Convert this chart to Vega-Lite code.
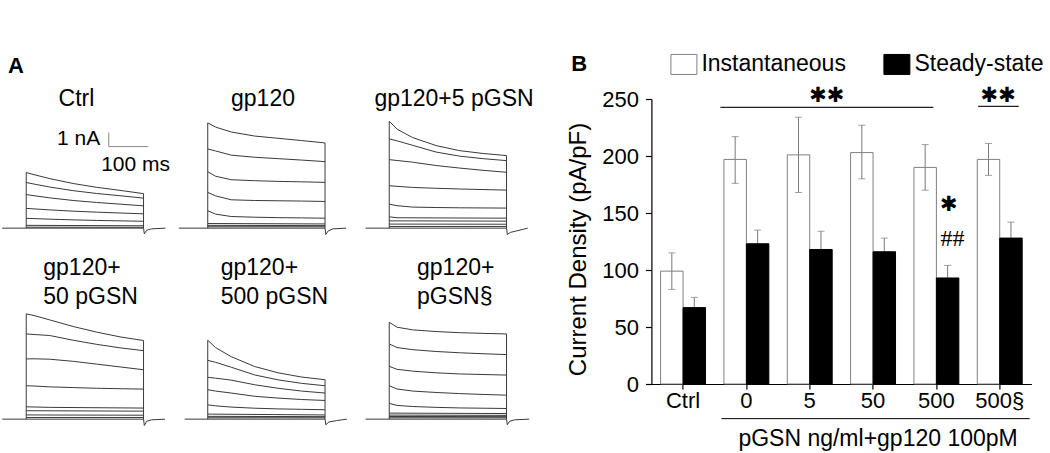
{
  "$schema": "https://vega.github.io/schema/vega-lite/v6.json",
  "background": "white",
  "padding": {"left": 0, "top": 52, "right": 0, "bottom": 0},
  "config": {
    "view": {"stroke": null},
    "font": "Liberation Sans",
    "axis": {"labelFont": "Liberation Sans", "titleFont": "Liberation Sans", "labelColor": "black", "titleColor": "black", "domainColor": "black", "tickColor": "black", "grid": false},
    "legend": {"labelFont": "Liberation Sans"}
  },
  "spacing": 32.4,
  "resolve": {"legend": {"fill": "independent", "stroke": "independent"}},
  "datasets": {
    "tr": [
      {"p":"a","n":1,"t":0,"c":3.96},{"p":"a","n":1,"t":20,"c":3.81},{"p":"a","n":1,"t":60,"c":3.53},{"p":"a","n":1,"t":120,"c":3.18},{"p":"a","n":1,"t":180,"c":2.91},{"p":"a","n":1,"t":240,"c":2.69},{"p":"a","n":1,"t":300,"c":2.46},
      {"p":"a","n":2,"t":0,"c":3.25},{"p":"a","n":2,"t":20,"c":3.14},{"p":"a","n":2,"t":60,"c":2.93},{"p":"a","n":2,"t":120,"c":2.67},{"p":"a","n":2,"t":180,"c":2.47},{"p":"a","n":2,"t":240,"c":2.31},{"p":"a","n":2,"t":300,"c":2.14},
      {"p":"a","n":3,"t":0,"c":2.39},{"p":"a","n":3,"t":20,"c":2.31},{"p":"a","n":3,"t":60,"c":2.16},{"p":"a","n":3,"t":120,"c":1.97},{"p":"a","n":3,"t":180,"c":1.83},{"p":"a","n":3,"t":240,"c":1.71},{"p":"a","n":3,"t":300,"c":1.59},
      {"p":"a","n":4,"t":0,"c":1.41},{"p":"a","n":4,"t":20,"c":1.37},{"p":"a","n":4,"t":60,"c":1.30},{"p":"a","n":4,"t":120,"c":1.21},{"p":"a","n":4,"t":180,"c":1.14},{"p":"a","n":4,"t":240,"c":1.08},{"p":"a","n":4,"t":300,"c":1.02},
      {"p":"a","n":5,"t":0,"c":0.70},{"p":"a","n":5,"t":20,"c":0.68},{"p":"a","n":5,"t":60,"c":0.64},{"p":"a","n":5,"t":120,"c":0.59},{"p":"a","n":5,"t":180,"c":0.55},{"p":"a","n":5,"t":240,"c":0.52},{"p":"a","n":5,"t":300,"c":0.49},
      {"p":"a","n":6,"t":0,"c":0.2},{"p":"a","n":6,"t":300,"c":0.17},
      {"p":"a","n":7,"t":0,"c":0.07},{"p":"a","n":7,"t":300,"c":0.06},
      {"p":"a","n":0,"t":-61.5,"c":0},{"p":"a","n":0,"t":300,"c":0},{"p":"a","n":0,"t":302,"c":-0.4},{"p":"a","n":0,"t":308,"c":-0.15},{"p":"a","n":0,"t":320,"c":-0.05},{"p":"a","n":0,"t":356,"c":0},

      {"p":"b","n":1,"t":0,"c":7.5},{"p":"b","n":1,"t":20,"c":7.2},{"p":"b","n":1,"t":60,"c":6.85},{"p":"b","n":1,"t":120,"c":6.56},{"p":"b","n":1,"t":180,"c":6.4},{"p":"b","n":1,"t":240,"c":6.24},{"p":"b","n":1,"t":300,"c":6.07},
      {"p":"b","n":2,"t":0,"c":5.64},{"p":"b","n":2,"t":20,"c":5.5},{"p":"b","n":2,"t":60,"c":5.2},{"p":"b","n":2,"t":120,"c":5.05},{"p":"b","n":2,"t":180,"c":4.95},{"p":"b","n":2,"t":240,"c":4.85},{"p":"b","n":2,"t":300,"c":4.74},
      {"p":"b","n":3,"t":0,"c":4.02},{"p":"b","n":3,"t":20,"c":3.7},{"p":"b","n":3,"t":60,"c":3.45},{"p":"b","n":3,"t":120,"c":3.38},{"p":"b","n":3,"t":180,"c":3.33},{"p":"b","n":3,"t":240,"c":3.3},{"p":"b","n":3,"t":300,"c":3.26},
      {"p":"b","n":4,"t":0,"c":2.55},{"p":"b","n":4,"t":20,"c":2.3},{"p":"b","n":4,"t":60,"c":2.02},{"p":"b","n":4,"t":120,"c":1.97},{"p":"b","n":4,"t":180,"c":1.95},{"p":"b","n":4,"t":240,"c":1.93},{"p":"b","n":4,"t":300,"c":1.9},
      {"p":"b","n":5,"t":0,"c":1.24},{"p":"b","n":5,"t":20,"c":1.0},{"p":"b","n":5,"t":60,"c":0.83},{"p":"b","n":5,"t":120,"c":0.78},{"p":"b","n":5,"t":180,"c":0.75},{"p":"b","n":5,"t":240,"c":0.73},{"p":"b","n":5,"t":300,"c":0.71},
      {"p":"b","n":6,"t":0,"c":0.33},{"p":"b","n":6,"t":300,"c":0.3},
      {"p":"b","n":7,"t":0,"c":0.2},{"p":"b","n":7,"t":300,"c":0.18},
      {"p":"b","n":8,"t":0,"c":0.1},{"p":"b","n":8,"t":300,"c":0.1},
      {"p":"b","n":0,"t":-74,"c":0},{"p":"b","n":0,"t":300,"c":0},{"p":"b","n":0,"t":302,"c":-0.45},{"p":"b","n":0,"t":308,"c":-0.2},{"p":"b","n":0,"t":320,"c":-0.05},{"p":"b","n":0,"t":354,"c":0},

      {"p":"c","n":1,"t":0,"c":7.62},{"p":"c","n":1,"t":20,"c":7.05},{"p":"c","n":1,"t":60,"c":6.45},{"p":"c","n":1,"t":120,"c":5.88},{"p":"c","n":1,"t":180,"c":5.52},{"p":"c","n":1,"t":240,"c":5.32},{"p":"c","n":1,"t":300,"c":5.17},
      {"p":"c","n":2,"t":0,"c":6.36},{"p":"c","n":2,"t":20,"c":6.22},{"p":"c","n":2,"t":60,"c":5.9},{"p":"c","n":2,"t":120,"c":5.42},{"p":"c","n":2,"t":180,"c":5.13},{"p":"c","n":2,"t":240,"c":4.95},{"p":"c","n":2,"t":300,"c":4.81},
      {"p":"c","n":3,"t":0,"c":4.88},{"p":"c","n":3,"t":20,"c":4.82},{"p":"c","n":3,"t":60,"c":4.7},{"p":"c","n":3,"t":120,"c":4.46},{"p":"c","n":3,"t":180,"c":4.28},{"p":"c","n":3,"t":240,"c":4.12},{"p":"c","n":3,"t":300,"c":3.98},
      {"p":"c","n":4,"t":0,"c":3.02},{"p":"c","n":4,"t":20,"c":2.98},{"p":"c","n":4,"t":60,"c":2.9},{"p":"c","n":4,"t":120,"c":2.84},{"p":"c","n":4,"t":180,"c":2.79},{"p":"c","n":4,"t":240,"c":2.75},{"p":"c","n":4,"t":300,"c":2.71},
      {"p":"c","n":5,"t":0,"c":1.71},{"p":"c","n":5,"t":20,"c":1.6},{"p":"c","n":5,"t":60,"c":1.5},{"p":"c","n":5,"t":120,"c":1.47},{"p":"c","n":5,"t":180,"c":1.45},{"p":"c","n":5,"t":240,"c":1.44},{"p":"c","n":5,"t":300,"c":1.43},
      {"p":"c","n":6,"t":0,"c":0.81},{"p":"c","n":6,"t":20,"c":0.74},{"p":"c","n":6,"t":300,"c":0.71},
      {"p":"c","n":7,"t":0,"c":0.52},{"p":"c","n":7,"t":300,"c":0.5},
      {"p":"c","n":8,"t":0,"c":0.29},{"p":"c","n":8,"t":300,"c":0.28},
      {"p":"c","n":9,"t":0,"c":0.12},{"p":"c","n":9,"t":300,"c":0.12},
      {"p":"c","n":0,"t":-60.6,"c":0},{"p":"c","n":0,"t":300,"c":0},{"p":"c","n":0,"t":302,"c":-0.45},{"p":"c","n":0,"t":310,"c":-0.3},{"p":"c","n":0,"t":340,"c":-0.1},{"p":"c","n":0,"t":354,"c":0},

      {"p":"d","n":1,"t":0,"c":7.5},{"p":"d","n":1,"t":20,"c":7.38},{"p":"d","n":1,"t":60,"c":7.07},{"p":"d","n":1,"t":120,"c":6.6},{"p":"d","n":1,"t":180,"c":6.2},{"p":"d","n":1,"t":240,"c":5.86},{"p":"d","n":1,"t":300,"c":5.6},
      {"p":"d","n":2,"t":0,"c":6.07},{"p":"d","n":2,"t":20,"c":6.03},{"p":"d","n":2,"t":60,"c":5.96},{"p":"d","n":2,"t":120,"c":5.62},{"p":"d","n":2,"t":180,"c":5.33},{"p":"d","n":2,"t":240,"c":5.08},{"p":"d","n":2,"t":300,"c":4.88},
      {"p":"d","n":3,"t":0,"c":4.29},{"p":"d","n":3,"t":20,"c":4.3},{"p":"d","n":3,"t":60,"c":4.27},{"p":"d","n":3,"t":120,"c":4.12},{"p":"d","n":3,"t":180,"c":3.92},{"p":"d","n":3,"t":240,"c":3.72},{"p":"d","n":3,"t":300,"c":3.52},
      {"p":"d","n":4,"t":0,"c":2.38},{"p":"d","n":4,"t":20,"c":2.36},{"p":"d","n":4,"t":60,"c":2.3},{"p":"d","n":4,"t":120,"c":2.25},{"p":"d","n":4,"t":180,"c":2.2},{"p":"d","n":4,"t":240,"c":2.17},{"p":"d","n":4,"t":300,"c":2.14},
      {"p":"d","n":5,"t":0,"c":0.88},{"p":"d","n":5,"t":60,"c":0.84},{"p":"d","n":5,"t":300,"c":0.79},
      {"p":"d","n":6,"t":0,"c":0.6},{"p":"d","n":6,"t":300,"c":0.57},
      {"p":"d","n":7,"t":0,"c":0.3},{"p":"d","n":7,"t":300,"c":0.28},
      {"p":"d","n":8,"t":0,"c":0.12},{"p":"d","n":8,"t":300,"c":0.12},
      {"p":"d","n":0,"t":-61.4,"c":0},{"p":"d","n":0,"t":300,"c":0},{"p":"d","n":0,"t":302,"c":-0.45},{"p":"d","n":0,"t":308,"c":-0.15},{"p":"d","n":0,"t":320,"c":-0.05},{"p":"d","n":0,"t":355,"c":0},

      {"p":"e","n":1,"t":0,"c":5.62},{"p":"e","n":1,"t":20,"c":5.1},{"p":"e","n":1,"t":60,"c":4.45},{"p":"e","n":1,"t":120,"c":3.75},{"p":"e","n":1,"t":180,"c":3.3},{"p":"e","n":1,"t":240,"c":3.0},{"p":"e","n":1,"t":300,"c":2.81},
      {"p":"e","n":2,"t":0,"c":4.19},{"p":"e","n":2,"t":20,"c":4.05},{"p":"e","n":2,"t":60,"c":3.7},{"p":"e","n":2,"t":120,"c":3.15},{"p":"e","n":2,"t":180,"c":2.8},{"p":"e","n":2,"t":240,"c":2.55},{"p":"e","n":2,"t":300,"c":2.38},
      {"p":"e","n":3,"t":0,"c":2.98},{"p":"e","n":3,"t":20,"c":2.92},{"p":"e","n":3,"t":60,"c":2.78},{"p":"e","n":3,"t":120,"c":2.45},{"p":"e","n":3,"t":180,"c":2.2},{"p":"e","n":3,"t":240,"c":2.0},{"p":"e","n":3,"t":300,"c":1.86},
      {"p":"e","n":4,"t":0,"c":2.1},{"p":"e","n":4,"t":20,"c":2.0},{"p":"e","n":4,"t":60,"c":1.86},{"p":"e","n":4,"t":120,"c":1.63},{"p":"e","n":4,"t":180,"c":1.5},{"p":"e","n":4,"t":240,"c":1.4},{"p":"e","n":4,"t":300,"c":1.33},
      {"p":"e","n":5,"t":0,"c":1.02},{"p":"e","n":5,"t":20,"c":0.95},{"p":"e","n":5,"t":60,"c":0.86},{"p":"e","n":5,"t":120,"c":0.78},{"p":"e","n":5,"t":180,"c":0.73},{"p":"e","n":5,"t":240,"c":0.7},{"p":"e","n":5,"t":300,"c":0.67},
      {"p":"e","n":6,"t":0,"c":0.36},{"p":"e","n":6,"t":300,"c":0.3},
      {"p":"e","n":7,"t":0,"c":0.2},{"p":"e","n":7,"t":300,"c":0.18},
      {"p":"e","n":8,"t":0,"c":0.1},{"p":"e","n":8,"t":300,"c":0.1},
      {"p":"e","n":0,"t":-59,"c":0},{"p":"e","n":0,"t":300,"c":0},{"p":"e","n":0,"t":302,"c":-0.4},{"p":"e","n":0,"t":310,"c":-0.2},{"p":"e","n":0,"t":330,"c":-0.1},{"p":"e","n":0,"t":356,"c":0},

      {"p":"f","n":1,"t":0,"c":6.9},{"p":"f","n":1,"t":20,"c":6.55},{"p":"f","n":1,"t":60,"c":6.36},{"p":"f","n":1,"t":120,"c":6.24},{"p":"f","n":1,"t":180,"c":6.16},{"p":"f","n":1,"t":240,"c":6.11},{"p":"f","n":1,"t":300,"c":6.07},
      {"p":"f","n":2,"t":0,"c":5.36},{"p":"f","n":2,"t":20,"c":5.1},{"p":"f","n":2,"t":60,"c":4.95},{"p":"f","n":2,"t":120,"c":4.82},{"p":"f","n":2,"t":180,"c":4.73},{"p":"f","n":2,"t":240,"c":4.66},{"p":"f","n":2,"t":300,"c":4.6},
      {"p":"f","n":3,"t":0,"c":3.76},{"p":"f","n":3,"t":20,"c":3.55},{"p":"f","n":3,"t":60,"c":3.42},{"p":"f","n":3,"t":120,"c":3.3},{"p":"f","n":3,"t":180,"c":3.22},{"p":"f","n":3,"t":240,"c":3.18},{"p":"f","n":3,"t":300,"c":3.14},
      {"p":"f","n":4,"t":0,"c":2.38},{"p":"f","n":4,"t":20,"c":2.15},{"p":"f","n":4,"t":60,"c":2.0},{"p":"f","n":4,"t":120,"c":1.9},{"p":"f","n":4,"t":180,"c":1.82},{"p":"f","n":4,"t":240,"c":1.76},{"p":"f","n":4,"t":300,"c":1.71},
      {"p":"f","n":5,"t":0,"c":1.12},{"p":"f","n":5,"t":20,"c":0.98},{"p":"f","n":5,"t":60,"c":0.9},{"p":"f","n":5,"t":120,"c":0.84},{"p":"f","n":5,"t":180,"c":0.8},{"p":"f","n":5,"t":240,"c":0.78},{"p":"f","n":5,"t":300,"c":0.76},
      {"p":"f","n":6,"t":0,"c":0.43},{"p":"f","n":6,"t":300,"c":0.4},
      {"p":"f","n":7,"t":0,"c":0.29},{"p":"f","n":7,"t":300,"c":0.27},
      {"p":"f","n":8,"t":0,"c":0.19},{"p":"f","n":8,"t":300,"c":0.18},
      {"p":"f","n":9,"t":0,"c":0.1},{"p":"f","n":9,"t":300,"c":0.1},
      {"p":"f","n":0,"t":-60.6,"c":0},{"p":"f","n":0,"t":300,"c":0},{"p":"f","n":0,"t":302,"c":-0.4},{"p":"f","n":0,"t":308,"c":-0.15},{"p":"f","n":0,"t":320,"c":-0.05},{"p":"f","n":0,"t":358,"c":0},

      {"p":"a","k":"ed","t":0,"c":0,"c2":3.96},{"p":"a","k":"ed","t":300,"c":0,"c2":2.46},
      {"p":"b","k":"ed","t":0,"c":0,"c2":7.5},{"p":"b","k":"ed","t":300,"c":0,"c2":6.07},
      {"p":"c","k":"ed","t":0,"c":0,"c2":7.62},{"p":"c","k":"ed","t":300,"c":0,"c2":5.17},
      {"p":"d","k":"ed","t":0,"c":0,"c2":7.5},{"p":"d","k":"ed","t":300,"c":0,"c2":5.6},
      {"p":"e","k":"ed","t":0,"c":0,"c2":5.62},{"p":"e","k":"ed","t":300,"c":0,"c2":2.81},
      {"p":"f","k":"ed","t":0,"c":0,"c2":6.9},{"p":"f","k":"ed","t":300,"c":0,"c2":6.07},

      {"p":"a","k":"sb","t":211,"t2":211,"c":5.81,"c2":6.81},
      {"p":"a","k":"sb","t":211,"t2":312,"c":5.81,"c2":5.81},

      {"p":"a","k":"lc","t":128.5,"c":8.72,"s":"Ctrl"},
      {"p":"b","k":"lc","t":141.3,"c":8.72,"s":"gp120"},
      {"p":"c","k":"lc","t":165.6,"c":8.72,"s":"gp120+5 pGSN"},
      {"p":"d","k":"ll","t":43.6,"c":10.27,"s":"gp120+"},
      {"p":"d","k":"ll","t":43.6,"c":8.18,"s":"50 pGSN"},
      {"p":"e","k":"ll","t":33.1,"c":10.27,"s":"gp120+"},
      {"p":"e","k":"ll","t":33.1,"c":8.18,"s":"500 pGSN"},
      {"p":"f","k":"ll","t":71,"c":10.27,"s":"gp120+"},
      {"p":"f","k":"ll","t":71,"c":8.18,"s":"pGSN§"},
      {"p":"a","k":"ls","t":78.9,"c":5.93,"s":"1 nA"},
      {"p":"a","k":"ls","t":191.7,"c":4.09,"s":"100 ms"},
      {"p":"a","k":"A","t":-46.7,"c":11.03,"s":"A"}
    ],
    "bars": [
      {"g":"Ctrl","type":"Instantaneous","v":99,"lo":83,"hi":115},
      {"g":"Ctrl","type":"Steady-state","v":67,"lo":58,"hi":76},
      {"g":"0","type":"Instantaneous","v":197,"lo":176,"hi":217},
      {"g":"0","type":"Steady-state","v":123,"lo":111,"hi":135},
      {"g":"5","type":"Instantaneous","v":201,"lo":168,"hi":234},
      {"g":"5","type":"Steady-state","v":118,"lo":102,"hi":134},
      {"g":"50","type":"Instantaneous","v":203,"lo":180,"hi":227},
      {"g":"50","type":"Steady-state","v":116,"lo":104,"hi":128},
      {"g":"500","type":"Instantaneous","v":190,"lo":170,"hi":210},
      {"g":"500","type":"Steady-state","v":93,"lo":83,"hi":104},
      {"g":"500§","type":"Instantaneous","v":197,"lo":183,"hi":211},
      {"g":"500§","type":"Steady-state","v":128,"lo":114,"hi":142}
    ]
  },
  "hconcat": [
    {
      "data": {"name": "tr"},
      "columns": 3,
      "bounds": "flush",
      "spacing": {"row": 45, "column": 16.5},
      "concat": [
        {
          "width": 165, "height": 146,
          "transform": [{"filter": "datum.p == 'a'"}],
          "encoding": {
            "x": {"field": "t", "type": "quantitative", "scale": {"domain": [-62, 360], "nice": false, "zero": false}, "axis": null},
            "y": {"field": "c", "type": "quantitative", "scale": {"domain": [-1.2, 9.2], "nice": false, "zero": false}, "axis": null}
          },
          "layer": [
            {"transform": [{"filter": "!datum.k"}], "mark": {"type": "line", "stroke": "#3a3a3a", "strokeWidth": 1}, "encoding": {"detail": {"field": "n", "type": "nominal"}, "order": {"field": "t", "type": "quantitative"}}},
            {"transform": [{"filter": "datum.k == 'ed'"}], "mark": {"type": "rule", "stroke": "#3a3a3a", "strokeWidth": 1}, "encoding": {"y2": {"field": "c2"}}},
            {"transform": [{"filter": "datum.k == 'sb'"}], "mark": {"type": "rule", "stroke": "#8a8a8a", "strokeWidth": 1}, "encoding": {"x2": {"field": "t2"}, "y2": {"field": "c2"}}},
            {"transform": [{"filter": "datum.k == 'lc'"}], "mark": {"type": "text", "align": "center", "baseline": "alphabetic", "fontSize": 23, "font": "Liberation Sans", "color": "black"}, "encoding": {"text": {"field": "s"}}},
            {"transform": [{"filter": "datum.k == 'ls'"}], "mark": {"type": "text", "align": "left", "baseline": "alphabetic", "fontSize": 21, "font": "Liberation Sans", "color": "black"}, "encoding": {"text": {"field": "s"}}},
            {"transform": [{"filter": "datum.k == 'A'"}], "mark": {"type": "text", "align": "left", "baseline": "alphabetic", "fontSize": 22, "fontWeight": "bold", "font": "Liberation Sans", "color": "black"}, "encoding": {"text": {"field": "s"}}}
          ]
        },
        {
          "width": 165, "height": 146,
          "transform": [{"filter": "datum.p == 'b'"}],
          "encoding": {
            "x": {"field": "t", "type": "quantitative", "scale": {"domain": [-62, 360], "nice": false, "zero": false}, "axis": null},
            "y": {"field": "c", "type": "quantitative", "scale": {"domain": [-1.2, 9.2], "nice": false, "zero": false}, "axis": null}
          },
          "layer": [
            {"transform": [{"filter": "!datum.k"}], "mark": {"type": "line", "stroke": "#3a3a3a", "strokeWidth": 1}, "encoding": {"detail": {"field": "n", "type": "nominal"}, "order": {"field": "t", "type": "quantitative"}}},
            {"transform": [{"filter": "datum.k == 'ed'"}], "mark": {"type": "rule", "stroke": "#3a3a3a", "strokeWidth": 1}, "encoding": {"y2": {"field": "c2"}}},
            {"transform": [{"filter": "datum.k == 'lc'"}], "mark": {"type": "text", "align": "center", "baseline": "alphabetic", "fontSize": 23, "font": "Liberation Sans", "color": "black"}, "encoding": {"text": {"field": "s"}}}
          ]
        },
        {
          "width": 165, "height": 146,
          "transform": [{"filter": "datum.p == 'c'"}],
          "encoding": {
            "x": {"field": "t", "type": "quantitative", "scale": {"domain": [-62, 360], "nice": false, "zero": false}, "axis": null},
            "y": {"field": "c", "type": "quantitative", "scale": {"domain": [-1.2, 9.2], "nice": false, "zero": false}, "axis": null}
          },
          "layer": [
            {"transform": [{"filter": "!datum.k"}], "mark": {"type": "line", "stroke": "#3a3a3a", "strokeWidth": 1}, "encoding": {"detail": {"field": "n", "type": "nominal"}, "order": {"field": "t", "type": "quantitative"}}},
            {"transform": [{"filter": "datum.k == 'ed'"}], "mark": {"type": "rule", "stroke": "#3a3a3a", "strokeWidth": 1}, "encoding": {"y2": {"field": "c2"}}},
            {"transform": [{"filter": "datum.k == 'lc'"}], "mark": {"type": "text", "align": "center", "baseline": "alphabetic", "fontSize": 23, "font": "Liberation Sans", "color": "black"}, "encoding": {"text": {"field": "s"}}}
          ]
        },
        {
          "width": 165, "height": 146,
          "transform": [{"filter": "datum.p == 'd'"}],
          "encoding": {
            "x": {"field": "t", "type": "quantitative", "scale": {"domain": [-62, 360], "nice": false, "zero": false}, "axis": null},
            "y": {"field": "c", "type": "quantitative", "scale": {"domain": [-1.2, 9.2], "nice": false, "zero": false}, "axis": null}
          },
          "layer": [
            {"transform": [{"filter": "!datum.k"}], "mark": {"type": "line", "stroke": "#3a3a3a", "strokeWidth": 1}, "encoding": {"detail": {"field": "n", "type": "nominal"}, "order": {"field": "t", "type": "quantitative"}}},
            {"transform": [{"filter": "datum.k == 'ed'"}], "mark": {"type": "rule", "stroke": "#3a3a3a", "strokeWidth": 1}, "encoding": {"y2": {"field": "c2"}}},
            {"transform": [{"filter": "datum.k == 'll'"}], "mark": {"type": "text", "align": "left", "baseline": "alphabetic", "fontSize": 23, "font": "Liberation Sans", "color": "black"}, "encoding": {"text": {"field": "s"}}}
          ]
        },
        {
          "width": 165, "height": 146,
          "transform": [{"filter": "datum.p == 'e'"}],
          "encoding": {
            "x": {"field": "t", "type": "quantitative", "scale": {"domain": [-62, 360], "nice": false, "zero": false}, "axis": null},
            "y": {"field": "c", "type": "quantitative", "scale": {"domain": [-1.2, 9.2], "nice": false, "zero": false}, "axis": null}
          },
          "layer": [
            {"transform": [{"filter": "!datum.k"}], "mark": {"type": "line", "stroke": "#3a3a3a", "strokeWidth": 1}, "encoding": {"detail": {"field": "n", "type": "nominal"}, "order": {"field": "t", "type": "quantitative"}}},
            {"transform": [{"filter": "datum.k == 'ed'"}], "mark": {"type": "rule", "stroke": "#3a3a3a", "strokeWidth": 1}, "encoding": {"y2": {"field": "c2"}}},
            {"transform": [{"filter": "datum.k == 'll'"}], "mark": {"type": "text", "align": "left", "baseline": "alphabetic", "fontSize": 23, "font": "Liberation Sans", "color": "black"}, "encoding": {"text": {"field": "s"}}}
          ]
        },
        {
          "width": 165, "height": 146,
          "transform": [{"filter": "datum.p == 'f'"}],
          "encoding": {
            "x": {"field": "t", "type": "quantitative", "scale": {"domain": [-62, 360], "nice": false, "zero": false}, "axis": null},
            "y": {"field": "c", "type": "quantitative", "scale": {"domain": [-1.2, 9.2], "nice": false, "zero": false}, "axis": null}
          },
          "layer": [
            {"transform": [{"filter": "!datum.k"}], "mark": {"type": "line", "stroke": "#3a3a3a", "strokeWidth": 1}, "encoding": {"detail": {"field": "n", "type": "nominal"}, "order": {"field": "t", "type": "quantitative"}}},
            {"transform": [{"filter": "datum.k == 'ed'"}], "mark": {"type": "rule", "stroke": "#3a3a3a", "strokeWidth": 1}, "encoding": {"y2": {"field": "c2"}}},
            {"transform": [{"filter": "datum.k == 'll'"}], "mark": {"type": "text", "align": "left", "baseline": "alphabetic", "fontSize": 23, "font": "Liberation Sans", "color": "black"}, "encoding": {"text": {"field": "s"}}}
          ]
        }
      ]
    },
    {
      "data": {"name": "bars"},
      "width": 380,
      "height": 285,
      "layer": [
        {
          "mark": {"type": "rule", "stroke": "#7a7a7a", "strokeWidth": 1},
          "encoding": {
            "x": {"field": "g", "type": "nominal", "scale": {"domain": ["Ctrl","0","5","50","500","500§"], "paddingInner": 0, "paddingOuter": 0}},
            "xOffset": {"field": "type", "type": "nominal", "scale": {"domain": ["Instantaneous","Steady-state"], "paddingInner": 0, "paddingOuter": 0.41}},
            "y": {"field": "lo", "type": "quantitative", "scale": {"domain": [0, 250], "nice": false}},
            "y2": {"field": "hi"}
          }
        },
        {
          "mark": {"type": "tick", "color": "#7a7a7a", "size": 7, "thickness": 1},
          "encoding": {
            "x": {"field": "g", "type": "nominal", "scale": {"domain": ["Ctrl","0","5","50","500","500§"], "paddingInner": 0, "paddingOuter": 0}},
            "xOffset": {"field": "type", "type": "nominal", "scale": {"domain": ["Instantaneous","Steady-state"], "paddingInner": 0, "paddingOuter": 0.41}},
            "y": {"field": "hi", "type": "quantitative", "scale": {"domain": [0, 250], "nice": false}}
          }
        },
        {
          "mark": {"type": "tick", "color": "#7a7a7a", "size": 7, "thickness": 1},
          "encoding": {
            "x": {"field": "g", "type": "nominal", "scale": {"domain": ["Ctrl","0","5","50","500","500§"], "paddingInner": 0, "paddingOuter": 0}},
            "xOffset": {"field": "type", "type": "nominal", "scale": {"domain": ["Instantaneous","Steady-state"], "paddingInner": 0, "paddingOuter": 0.41}},
            "y": {"field": "lo", "type": "quantitative", "scale": {"domain": [0, 250], "nice": false}}
          }
        },
        {
          "mark": {"type": "bar", "strokeWidth": 1},
          "encoding": {
            "x": {"field": "g", "type": "nominal", "scale": {"domain": ["Ctrl","0","5","50","500","500§"], "paddingInner": 0, "paddingOuter": 0},
              "axis": {"title": null, "labelAngle": 0, "labelAlign": "center", "labelFontSize": 22, "labelPadding": 11, "tickSize": 5, "domainWidth": 1.2, "tickWidth": 1.2}},
            "xOffset": {"field": "type", "type": "nominal", "scale": {"domain": ["Instantaneous","Steady-state"], "paddingInner": 0, "paddingOuter": 0.41}},
            "y": {"field": "v", "type": "quantitative", "scale": {"domain": [0, 250], "nice": false},
              "axis": {"title": "Current Density (pA/pF)", "values": [0,25,50,75,100,125,150,175,200,225,250], "labelExpr": "datum.value % 50 === 0 ? datum.label : ''", "tickSize": {"condition": {"test": "datum.value % 50 !== 0", "value": 3}, "value": 6}, "labelFontSize": 22, "labelPadding": 7, "labelOverlap": false, "titleFontSize": 24, "titleFontWeight": "normal", "titleX": -73, "titleY": 150, "titleBaseline": "middle", "titleAngle": -90, "domainWidth": 1.2, "tickWidth": 1.2}},
            "fill": {"field": "type", "type": "nominal", "scale": {"domain": ["Instantaneous","Steady-state"], "range": ["rgba(255,255,255,0)", "black"]},
              "legend": {"orient": "none", "legendX": 21, "legendY": -46.3, "direction": "horizontal", "title": null, "symbolType": "M-1.3,-1H1.3V1H-1.3Z", "symbolSize": 400, "symbolStrokeColor": "#808080", "symbolStrokeWidth": 1, "labelFontSize": 23, "labelColor": "black", "labelOffset": 6, "columnPadding": 35, "padding": 0, "labelLimit": 300}},
            "stroke": {"field": "type", "type": "nominal", "scale": {"domain": ["Instantaneous","Steady-state"], "range": ["#808080", "black"]}, "legend": null}
          }
        },
        {
          "data": {"values": [{}]},
          "mark": {"type": "rule", "stroke": "#222", "strokeWidth": 1.2, "xOffset": -26, "x2Offset": -3},
          "encoding": {
            "x": {"datum": "0", "type": "nominal"},
            "x2": {"datum": "500"},
            "y": {"datum": 242.6, "type": "quantitative", "scale": {"domain": [0, 250], "nice": false}}
          }
        },
        {
          "data": {"values": [{}]},
          "mark": {"type": "rule", "stroke": "#222", "strokeWidth": 1.2, "xOffset": -21.6, "x2Offset": 19},
          "encoding": {
            "x": {"datum": "500§", "type": "nominal"},
            "x2": {"datum": "500§"},
            "y": {"datum": 243.5, "type": "quantitative", "scale": {"domain": [0, 250], "nice": false}}
          }
        },
        {
          "data": {"values": [{}]},
          "mark": {"type": "rule", "stroke": "black", "strokeWidth": 1, "xOffset": -25, "x2Offset": 30},
          "encoding": {
            "x": {"datum": "0", "type": "nominal"},
            "x2": {"datum": "500§"},
            "y": {"datum": -30.4, "type": "quantitative", "scale": {"domain": [0, 250], "nice": false}}
          }
        },
        {
          "data": {"values": [{}]},
          "mark": {"type": "text", "text": "✱✱", "font": "DejaVu Sans", "fontSize": 21, "baseline": "middle", "align": "center", "dx": 17, "color": "black"},
          "encoding": {
            "x": {"datum": "5", "type": "nominal"},
            "y": {"datum": 252.3, "type": "quantitative", "scale": {"domain": [0, 250], "nice": false}}
          }
        },
        {
          "data": {"values": [{}]},
          "mark": {"type": "text", "text": "✱✱", "font": "DejaVu Sans", "fontSize": 21, "baseline": "middle", "align": "center", "dx": -1.6, "color": "black"},
          "encoding": {
            "x": {"datum": "500§", "type": "nominal"},
            "y": {"datum": 252.3, "type": "quantitative", "scale": {"domain": [0, 250], "nice": false}}
          }
        },
        {
          "data": {"values": [{}]},
          "mark": {"type": "text", "text": "✱", "font": "DejaVu Sans", "fontSize": 21, "baseline": "middle", "align": "center", "dx": 12.5, "color": "black"},
          "encoding": {
            "x": {"datum": "500", "type": "nominal"},
            "y": {"datum": 156.8, "type": "quantitative", "scale": {"domain": [0, 250], "nice": false}}
          }
        },
        {
          "data": {"values": [{}]},
          "mark": {"type": "text", "text": "##", "font": "Liberation Serif", "fontSize": 24, "baseline": "middle", "align": "center", "dx": 16, "color": "black"},
          "encoding": {
            "x": {"datum": "500", "type": "nominal"},
            "y": {"datum": 127.5, "type": "quantitative", "scale": {"domain": [0, 250], "nice": false}}
          }
        },
        {
          "data": {"values": [{}]},
          "mark": {"type": "text", "text": "pGSN ng/ml+gp120 100pM", "font": "Liberation Sans", "fontSize": 23, "baseline": "alphabetic", "align": "center", "dx": 5, "color": "black"},
          "encoding": {
            "x": {"datum": "50", "type": "nominal"},
            "y": {"datum": -54.7, "type": "quantitative", "scale": {"domain": [0, 250], "nice": false}}
          }
        },
        {
          "data": {"values": [{}]},
          "mark": {"type": "text", "text": "B", "font": "Liberation Sans", "fontSize": 22, "fontWeight": "bold", "baseline": "alphabetic", "align": "center", "dx": -104, "color": "black"},
          "encoding": {
            "x": {"datum": "Ctrl", "type": "nominal"},
            "y": {"datum": 274.3, "type": "quantitative", "scale": {"domain": [0, 250], "nice": false}}
          }
        }
      ]
    }
  ]
}
